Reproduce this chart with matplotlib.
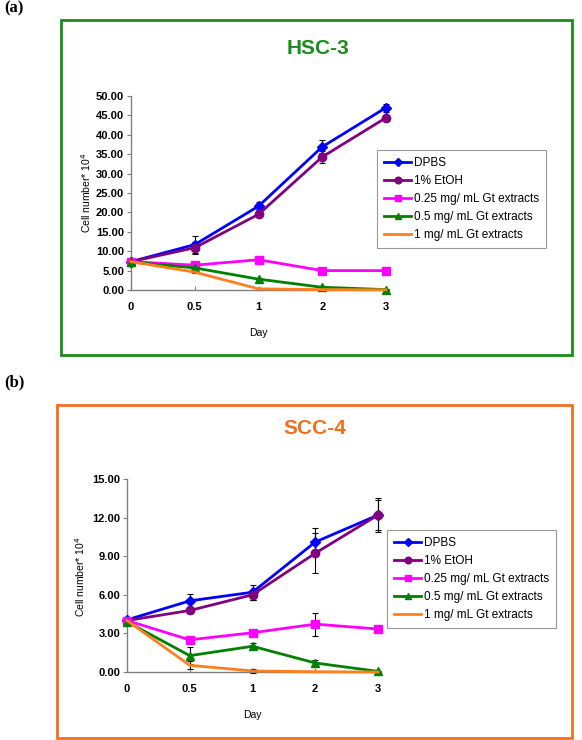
import matplotlib
matplotlib.use("Agg")
import matplotlib.pyplot as plt
from matplotlib.patches import Rectangle
import numpy as np

plt.rcParams['font.family'] = ['Liberation Sans', 'DejaVu Sans']

days = ["0", "0.5", "1", "2", "3"]
series_names = ["DPBS", "1% EtOH", "0.25 mg/ mL Gt extracts",
                "0.5 mg/ mL Gt extracts", "1 mg/ mL Gt extracts"]

# HSC-3
hsc_dpbs = [7.3, 11.7, 21.6, 36.9, 47.0]
hsc_etoh = [7.3, 10.9, 19.5, 34.3, 44.4]
hsc_025 = [7.3, 6.4, 7.8, 5.0, 5.0]
hsc_05 = [7.2, 5.7, 2.8, 0.7, 0.1]
hsc_1 = [7.3, 4.6, 0.3, 0.1, 0.05]
hsc_dpbs_err = [0.3, 2.2, 1.0, 1.7, 1.0]
hsc_etoh_err = [0.3, 1.5, 0.8, 1.5, 0.8]
hsc_025_err = [0.3, 0.4, 0.6, 0.3, 0.3]
hsc_05_err = [0.3, 0.3, 0.3, 0.2, 0.1]
hsc_1_err = [0.3, 0.2, 0.2, 0.1, 0.05]

# SCC-4
scc_dpbs = [4.05, 5.53, 6.2, 10.1, 12.2]
scc_etoh = [4.0, 4.78, 6.0, 9.23, 12.2]
scc_025 = [4.0, 2.5, 3.05, 3.72, 3.34]
scc_05 = [3.9, 1.27, 2.0, 0.7, 0.05]
scc_1 = [4.0, 0.52, 0.08, 0.02, 0.0]
scc_dpbs_err = [0.1, 0.5, 0.6, 1.1, 1.35]
scc_etoh_err = [0.1, 0.2, 0.4, 1.55, 1.2]
scc_025_err = [0.1, 0.2, 0.15, 0.9, 0.15]
scc_05_err = [0.1, 0.67, 0.25, 0.2, 0.05]
scc_1_err = [0.1, 0.3, 0.12, 0.02, 0.0]

colors = ["#0000ff", "#800080", "#ff00ff", "#008000", "#ff7f1e"]
markers = ["D", "o", "s", "^", None]
msizes = [5, 6, 6, 6, 0]

W, H = 582, 740
fig = plt.figure(figsize=(W / 100, H / 100), dpi=100)


def fx(px):
    return px / W


def fy(py):
    return 1 - py / H


def panel(ax_rect, data, errs, ymax, ystep, title, tcolor, title_xy,
          box, leg_rect, ylab_x, ylab_y, day_y):
    l, t, r, b = ax_rect
    ax = fig.add_axes([fx(l), fy(b), fx(r - l), (b - t) / H])
    x = np.arange(len(days))
    handles = []
    for vals, err, c, m, ms, name in zip(data, errs, colors, markers, msizes, series_names):
        ax.errorbar(x, vals, yerr=err, fmt='none', ecolor='black',
                    elinewidth=0.8, capsize=2.5, capthick=0.8, zorder=2, clip_on=False)
        h, = ax.plot(x, vals, color=c, lw=2, marker=m, markersize=ms,
                     zorder=3, clip_on=False, label=name)
        handles.append(h)
    ax.set_xlim(0, 4)
    ax.set_ylim(0, ymax)
    ax.set_xticks(x)
    ax.set_xticklabels(days, fontsize=8, fontweight='bold')
    yt = np.arange(0, ymax + 0.001, ystep)
    ax.set_yticks(yt)
    ax.set_yticklabels([f"{v:.2f}" for v in yt], fontsize=8, fontweight='bold')
    ax.tick_params(axis='x', direction='in', length=3, pad=9, color='#808080')
    ax.tick_params(axis='y', direction='out', length=3, pad=2, color='#808080')
    for s in ['top', 'right']:
        ax.spines[s].set_visible(False)
    for s in ['left', 'bottom']:
        ax.spines[s].set_color('#808080')
        ax.spines[s].set_linewidth(1)
    ax.patch.set_alpha(0)

    fig.text(fx(ylab_x), fy(ylab_y), r"Cell number* 10$^{4}$", rotation=90,
             ha='center', va='center', fontsize=7.5)
    fig.text(fx((l + r) / 2), fy(day_y), "Day", ha='center', va='center', fontsize=7.5)
    fig.text(fx(title_xy[0]), fy(title_xy[1]), title, ha='center', va='center',
             fontsize=15, fontweight='bold', color=tcolor)

    bl, bt, br, bb = box
    fig.patches.append(Rectangle((fx(bl), fy(bb)), fx(br - bl), (bb - bt) / H,
                                 transform=fig.transFigure, fill=False,
                                 edgecolor=tcolor, lw=2))

    ll, lt, lr, lb = leg_rect
    leg = fig.legend(handles=handles, loc='upper left',
                     bbox_to_anchor=(fx(ll), fy(lt)), bbox_transform=fig.transFigure,
                     fontsize=8.5, frameon=True, fancybox=False, edgecolor='#808080',
                     handlelength=2.3, handletextpad=0.25, labelspacing=0.5,
                     borderpad=0.6, borderaxespad=0, markerscale=0.8)
    leg.get_frame().set_linewidth(0.8)
    return ax


panel((131, 96, 386, 290),
      [hsc_dpbs, hsc_etoh, hsc_025, hsc_05, hsc_1],
      [hsc_dpbs_err, hsc_etoh_err, hsc_025_err, hsc_05_err, hsc_1_err],
      50, 5, "HSC-3", "#1a8c1a", (318, 48), (61, 20, 572, 355),
      (377, 150, 561, 248), 86, 193, 333)

panel((127, 479, 378, 672),
      [scc_dpbs, scc_etoh, scc_025, scc_05, scc_1],
      [scc_dpbs_err, scc_etoh_err, scc_025_err, scc_05_err, scc_1_err],
      15, 3, "SCC-4", "#f07020", (315, 429), (57, 405, 572, 738),
      (387, 530, 565, 623), 80, 577, 715)

fig.text(fx(4), fy(0), "(a)", fontsize=12, fontweight='bold',
         family=['Liberation Serif', 'DejaVu Serif'], ha='left', va='top')
fig.text(fx(4), fy(382), "(b)", fontsize=12, fontweight='bold',
         family=['Liberation Serif', 'DejaVu Serif'], ha='left', va='center')

fig.savefig("out.png", dpi=100)
